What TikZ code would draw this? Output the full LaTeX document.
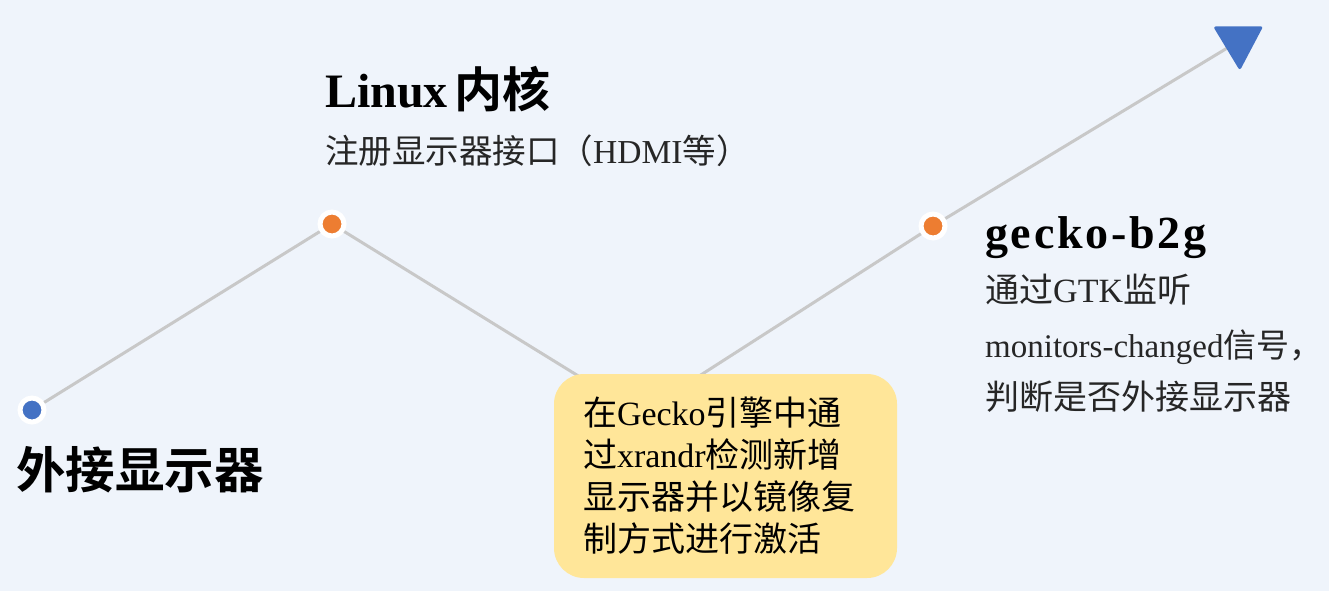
\documentclass[tikz,border=0pt]{standalone}
\usepackage{fontspec}
\setmainfont{Noto Sans CJK SC}[BoldFont={Noto Sans CJK SC Bold}]
\newfontfamily\latin{Liberation Serif}
\usetikzlibrary{arrows.meta,backgrounds}
\definecolor{bgblue}{HTML}{EFF4FB}
\definecolor{dotblue}{HTML}{4472C4}
\definecolor{dotorange}{HTML}{ED7D31}
\definecolor{linegray}{HTML}{C8C8C8}
\definecolor{noteyellow}{HTML}{FFE699}
\definecolor{textgray}{HTML}{262626}

\begin{document}
\begin{tikzpicture}[x=1pt,y=-1pt]
	\tikzstyle{dot}=[circle,draw=white,line width=5pt,minimum size=24pt,inner sep=0pt]
	\tikzstyle{track}=[draw=linegray,line width=3pt]
	\tikzstyle{title}=[anchor=base west,inner sep=0pt,font=\fontsize{48}{48}\selectfont\bfseries]
	\tikzstyle{detail}=[anchor=base west,inner sep=0pt,text=textgray,font=\fontsize{34}{40}\selectfont]
	\tikzstyle{note}=[rectangle,rounded corners=30pt,fill=noteyellow,minimum width=343pt,minimum height=204pt,inner xsep=29pt,text width=285pt,align=left,font=\fontsize{34}{42}\selectfont]
	\useasboundingbox (0,0) rectangle (1329,591);
	\node (start)  at (32,410)  [dot,fill=dotblue] {};
	\node (kernel) at (332,224) [dot,fill=dotorange] {};
	\node (gecko)  at (933,226) [dot,fill=dotorange] {};
	\coordinate (bend) at (640,414);
	\coordinate (tip)  at (1262,27);
	\node (xrandr) at (725.5,476) [note] {在{\latin Gecko}引擎中通\\过{\latin xrandr}检测新增\\显示器并以镜像复\\制方式进行激活};
	\node (start0)  at (16,488)  [title,font=\fontsize{49.5}{50}\selectfont\bfseries] {外接显示器};
	\node (kernel0) at (325,108) [title]  {{\latin Linux}\hspace{7pt}内核};
	\node (kernel1) at (325,163) [detail,font=\fontsize{33.5}{40}\selectfont] {注册显示器接口（{\latin HDMI}等）};
	\node (gecko0)  at (985,248) [title,font=\fontsize{46}{46}\selectfont\bfseries] {\latin\addfontfeature{LetterSpace=6}gecko-b2g};
	\node (gecko1)  at (985,302) [detail] {通过{\latin GTK}监听};
	\node (gecko2)  at (985,357) [detail,font=\fontsize{33}{40}\selectfont] {{\latin monitors-changed}信号，};
	\node (gecko3)  at (985,409) [detail] {判断是否外接显示器};
	\begin{scope}[on background layer]
		\fill [bgblue] (0,0) rectangle (1329,591);
		\draw [track,-{Triangle[length=43pt,width=51pt,round,color=dotblue]}] (start.center) -- (kernel.center) -- (bend) -- (gecko.center) -- (tip);
	\end{scope}
\end{tikzpicture}
\end{document}
